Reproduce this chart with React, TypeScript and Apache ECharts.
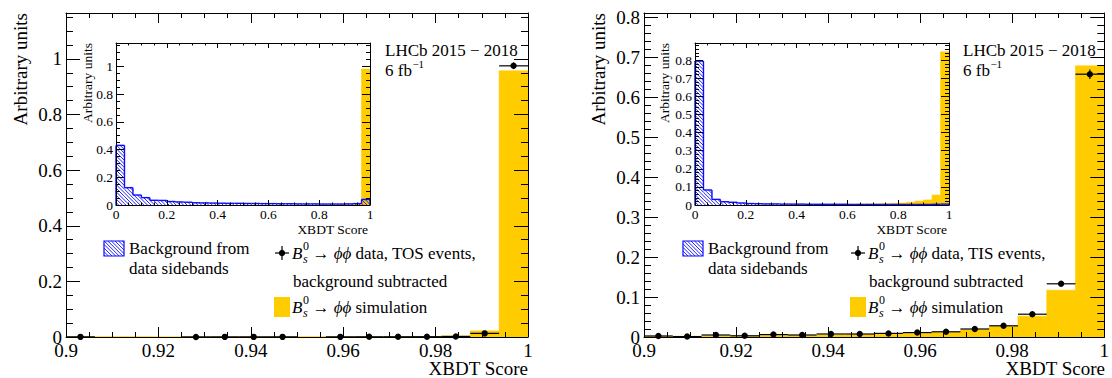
import { useEffect, useRef } from "react";
import * as echarts from "echarts";

// ---------------- data ----------------
const MAIN_EDGES = [0.9, 0.90625, 0.9125, 0.91875, 0.925, 0.93125, 0.9375, 0.94375, 0.95, 0.95625, 0.9625, 0.96875, 0.975, 0.98125, 0.9875, 0.99375, 1.0];
const INSET_BINS = 30;
const INSET_EDGES = Array.from({ length: INSET_BINS + 1 }, (_, i) => i / INSET_BINS);

// TOS (left panel), main range 0.9-1
const tosSimulation = [0.001, 0.001, 0.001, 0.0005, 0.0005, 0.0005, 0.0005, 0.0005, 0.001, 0.001, 0.001, 0.0015, 0.002, 0.004, 0.022, 0.957];
const tosData = [0.0005, null, null, null, 0.0003, 0.0004, 0.0004, 0.0005, null, 0.0005, 0.0007, 0.0008, 0.001, 0.002, 0.013, 0.975];
const tosDataErr = [0.002, 0, 0, 0, 0.002, 0.002, 0.002, 0.002, 0, 0.002, 0.002, 0.002, 0.002, 0.002, 0.003, 0.012];

// TIS (right panel), main range 0.9-1
const tisSimulation = [0.002, 0.002, 0.003, 0.003, 0.004, 0.004, 0.005, 0.006, 0.007, 0.009, 0.012, 0.018, 0.027, 0.052, 0.117, 0.678];
const tisData = [0.0025, 0.001, 0.005, 0.003, 0.006, 0.005, 0.0075, 0.0075, 0.009, 0.011, 0.013, 0.02, 0.028, 0.057, 0.133, 0.657];
const tisDataErr = [0.002, 0.002, 0.003, 0.002, 0.003, 0.002, 0.003, 0.003, 0.003, 0.003, 0.003, 0.003, 0.003, 0.003, 0.004, 0.012];

// insets, full range 0-1
const tosInsetBackground = [0.43, 0.125, 0.072, 0.053, 0.034, 0.033, 0.025, 0.022, 0.02, 0.016, 0.015, 0.014, 0.013, 0.012, 0.012, 0.011, 0.011, 0.01, 0.01, 0.009, 0.009, 0.008, 0.008, 0.008, 0.007, 0.007, 0.007, 0.008, 0.01, 0.04];
const tosInsetSimulation = [0, 0, 0, 0, 0, 0, 0, 0, 0, 0, 0, 0, 0, 0, 0, 0, 0, 0, 0, 0, 0, 0, 0, 0, 0, 0, 0.001, 0.002, 0.006, 0.98];
const tisInsetBackground = [0.795, 0.083, 0.031, 0.018, 0.015, 0.011, 0.008, 0.007, 0.006, 0.006, 0.005, 0.005, 0.005, 0.004, 0.004, 0.004, 0.004, 0.004, 0.003, 0.003, 0.003, 0.003, 0.003, 0.003, 0.003, 0.003, 0.003, 0.003, 0.004, 0.005];
const tisInsetSimulation = [0, 0, 0, 0, 0, 0, 0, 0, 0, 0, 0, 0.001, 0.001, 0.001, 0.002, 0.002, 0.003, 0.004, 0.004, 0.005, 0.006, 0.006, 0.007, 0.009, 0.011, 0.015, 0.022, 0.028, 0.055, 0.846];

// ---------------- styles ----------------
const SERIF = "Liberation Serif";
const YELLOW = "#ffcc00";
const BLUE = "#0a0aff";
const HATCH = 3.6;
const LEG = 17;

const GRIDS = [
  { left: 66, top: 13, width: 462, height: 324 },
  { left: 644, top: 13, width: 461, height: 324 },
  { left: 116, top: 43, width: 254, height: 162 },
  { left: 695, top: 43, width: 254, height: 162 },
];

const SPECS = [
  { xMin: 0.9, xMax: 1, xMaj: 0.02, xMin2: 0.005, yMin: 0, yMax: 1.165, yMaj: 0.2, yMin2: 0.05, xL: 10, yL: 14, fs: 19, xm: 3.5, ym: 4 },
  { xMin: 0.9, xMax: 1, xMaj: 0.02, xMin2: 0.005, yMin: 0, yMax: 0.81, yMaj: 0.1, yMin2: 0.02, xL: 10, yL: 14, fs: 19, xm: 3.5, ym: 4 },
  { xMin: 0, xMax: 1, xMaj: 0.2, xMin2: 0.05, yMin: 0, yMax: 1.168, yMaj: 0.2, yMin2: 0.05, xL: 5, yL: 8, fs: 13.5, xm: 2, ym: 3 },
  { xMin: 0, xMax: 1, xMaj: 0.2, xMin2: 0.05, yMin: 0, yMax: 0.895, yMaj: 0.1, yMin2: 0.02, xL: 5, yL: 8, fs: 13.5, xm: 2, ym: 3 },
];

let mctx: any = null;
function measure(text: string, size: number, italic = false) {
  if (!mctx) mctx = document.createElement("canvas").getContext("2d");
  mctx.font = `${italic ? "italic " : ""}${size}px "${SERIF}"`;
  return mctx.measureText(text).width;
}

function fmt(v: number, interval: number) {
  const r = v / interval;
  if (Math.abs(r - Math.round(r)) > 1e-6) return "";
  return String(parseFloat(v.toFixed(4)));
}

function makeAxis(gridIndex: number, position: string, min: number, max: number, interval: number, tickLen: number, showLabel: boolean, showLine: boolean, fs: number, margin: number) {
  return {
    type: "value",
    gridIndex,
    position,
    min,
    max,
    interval,
    z: 10,
    axisLine: { show: showLine, onZero: false, lineStyle: { color: "#000", width: 1 } },
    axisTick: { show: true, inside: true, length: tickLen, lineStyle: { color: "#000", width: 1 } },
    axisLabel: {
      show: showLabel,
      fontSize: fs,
      fontFamily: SERIF,
      color: "#000",
      margin,
      formatter: (v: number) => fmt(v, interval),
    },
    splitLine: { show: false },
    minorTick: { show: false },
    minorSplitLine: { show: false },
  };
}

function hatchLines(x0: number, x1: number, yt: number, yb: number, s: number, color: string, lw: number) {
  const out: any[] = [];
  const kStart = Math.ceil((yt - x1) / s);
  const kEnd = Math.floor((yb - x0) / s);
  for (let k = kStart; k <= kEnd; k++) {
    const off = k * s;
    const xs = Math.max(x0, yt - off);
    const xe = Math.min(x1, yb - off);
    if (xe - xs > 0.3) {
      out.push({ type: "line", silent: true, shape: { x1: xs, y1: xs + off, x2: xe, y2: xe + off }, style: { stroke: color, lineWidth: lw } });
    }
  }
  return out;
}

function histSeries(gi: number, edges: number[], values: number[], color: string, z: number) {
  return {
    type: "custom",
    xAxisIndex: gi * 4,
    yAxisIndex: gi * 4,
    z,
    clip: false,
    silent: true,
    data: values.map((v, i) => [edges[i], edges[i + 1], v]),
    renderItem: (_p: any, api: any) => {
      const lo = api.value(0), hi = api.value(1), v = api.value(2);
      if (!(v > 0)) return { type: "group", children: [] };
      const a = api.coord([lo, 0]);
      const b = api.coord([hi, v]);
      return {
        type: "rect",
        shape: { x: a[0], y: b[1], width: b[0] - a[0], height: a[1] - b[1] },
        style: { fill: color, stroke: color, lineWidth: 0.6 },
      };
    },
  };
}

function hatchedSeries(gi: number, edges: number[], values: number[], z: number) {
  return {
    type: "custom",
    xAxisIndex: gi * 4,
    yAxisIndex: gi * 4,
    z,
    clip: false,
    silent: true,
    data: values.map((v, i) => [edges[i], edges[i + 1], v]),
    renderItem: (p: any, api: any) => {
      const i = p.dataIndex;
      const lo = api.value(0), hi = api.value(1), v = api.value(2);
      const prev = i > 0 ? values[i - 1] : 0;
      const a = api.coord([lo, 0]);
      const b = api.coord([hi, v]);
      const pp = api.coord([lo, prev]);
      const x0 = a[0], x1 = b[0], yt = b[1], yb = a[1];
      const children: any[] = hatchLines(x0, x1, yt, yb, HATCH, BLUE, 0.9);
      const ls = { stroke: BLUE, lineWidth: 1.4 };
      children.push({ type: "line", shape: { x1: x0, y1: pp[1], x2: x0, y2: yt }, style: ls });
      children.push({ type: "line", shape: { x1: x0, y1: yt, x2: x1, y2: yt }, style: ls });
      if (i === values.length - 1) children.push({ type: "line", shape: { x1: x1, y1: yt, x2: x1, y2: yb }, style: ls });
      return { type: "group", children };
    },
  };
}

function pointsSeries(gi: number, edges: number[], values: (number | null)[], errs: number[]) {
  const data: number[][] = [];
  values.forEach((v, i) => {
    if (v !== null) data.push([edges[i], edges[i + 1], v, errs[i]]);
  });
  return {
    type: "custom",
    xAxisIndex: gi * 4,
    yAxisIndex: gi * 4,
    z: 12,
    clip: false,
    silent: true,
    data,
    renderItem: (_p: any, api: any) => {
      const lo = api.value(0), hi = api.value(1), v = api.value(2), e = api.value(3);
      const mid = (lo + hi) / 2;
      const l = api.coord([lo, v]);
      const r = api.coord([hi, v]);
      const c = api.coord([mid, v]);
      const up = api.coord([mid, v + e]);
      const dn = api.coord([mid, Math.max(0, v - e)]);
      const ls = { stroke: "#000", lineWidth: 1.2 };
      return {
        type: "group",
        children: [
          { type: "line", shape: { x1: l[0], y1: l[1], x2: r[0], y2: r[1] }, style: ls },
          { type: "line", shape: { x1: up[0], y1: up[1], x2: dn[0], y2: dn[1] }, style: ls },
          { type: "circle", shape: { cx: c[0], cy: c[1], r: 3.2 }, style: { fill: "#000" } },
        ],
      };
    },
  };
}

function txt(x: number, y: number, text: string, size: number, opts: any = {}) {
  return {
    type: "text",
    x,
    y,
    z: 30,
    rotation: opts.rot || 0,
    silent: true,
    style: {
      text,
      fontSize: size,
      fontFamily: SERIF,
      fontStyle: opts.italic ? "italic" : "normal",
      fill: "#000",
      align: opts.align || "left",
      verticalAlign: opts.va || "middle",
    },
  };
}

function bsText(x: number, y: number, rest: { t: string; italic?: boolean }[]) {
  const size = LEG, small = 12;
  const els: any[] = [];
  els.push(txt(x, y, "B", size, { italic: true }));
  const wB = measure("B", size, true);
  els.push(txt(x + wB + 0.5, y - 7, "0", small));
  els.push(txt(x + wB + 0.5, y + 6, "s", small, { italic: true }));
  let cx = x + wB + Math.max(measure("0", small), measure("s", small, true)) + 4;
  for (const p of rest) {
    els.push(txt(cx, y, p.t, size, { italic: p.italic }));
    cx += measure(p.t, size, !!p.italic);
  }
  return els;
}

function panelGraphics(o: any) {
  const els: any[] = [];
  // axis titles
  els.push(txt(o.yTitleX, o.mainTop, "Arbitrary units", 19, { rot: Math.PI / 2, align: "right" }));
  els.push(txt(o.mainRight, 378, "XBDT Score", 19, { align: "right", va: "bottom" }));
  els.push(txt(o.insetYTitleX, o.insetTop, "Arbitrary units", 13.5, { rot: Math.PI / 2, align: "right" }));
  els.push(txt(o.insetRight - 2, 229, "XBDT Score", 13.5, { align: "right" }));
  // LHCb label
  els.push(txt(o.lhcbX, 50, "LHCb 2015 \u2212 2018", LEG));
  els.push(txt(o.lhcbX, 70, "6 fb", LEG));
  els.push(txt(o.lhcbX + measure("6 fb", LEG) + 0.5, 64, "\u22121", 11));
  // legend: hatched box
  const hx = o.hatchX, hy = 241, hw = 20, hh = 15;
  els.push({ type: "group", z: 30, silent: true, children: hatchLines(hx, hx + hw, hy, hy + hh, HATCH, BLUE, 0.9) });
  els.push({ type: "rect", z: 31, silent: true, shape: { x: hx, y: hy, width: hw, height: hh }, style: { fill: "none", stroke: BLUE, lineWidth: 1.2 } });
  els.push(txt(hx + 25, 248, "Background from", LEG));
  els.push(txt(hx + 25, 268, "data sidebands", LEG));
  // legend: data marker
  const mx = o.markX, my = 253;
  els.push({ type: "line", z: 30, silent: true, shape: { x1: mx - 7, y1: my, x2: mx + 7, y2: my }, style: { stroke: "#000", lineWidth: 1.2 } });
  els.push({ type: "line", z: 30, silent: true, shape: { x1: mx, y1: my - 7, x2: mx, y2: my + 7 }, style: { stroke: "#000", lineWidth: 1.2 } });
  els.push({ type: "circle", z: 30, silent: true, shape: { cx: mx, cy: my, r: 3.2 }, style: { fill: "#000" } });
  els.push(...bsText(mx + 10, my, [{ t: "\u2192 " }, { t: "\u03d5\u03d5", italic: true }, { t: ` data, ${o.trig} events,` }]));
  els.push(txt(mx + 11, 281, "background subtracted", LEG));
  // legend: simulation
  els.push({ type: "rect", z: 30, silent: true, shape: { x: mx - 8, y: 297, width: 16, height: 20 }, style: { fill: YELLOW } });
  els.push(...bsText(mx + 10, 307, [{ t: "\u2192 " }, { t: "\u03d5\u03d5", italic: true }, { t: " simulation" }]));
  return els;
}

export default function App() {
  const ref = useRef<HTMLDivElement>(null);
  useEffect(() => {
    if (!ref.current) return;
    const chart = echarts.init(ref.current, null, { renderer: "svg" });

    const xAxes: any[] = [];
    const yAxes: any[] = [];
    GRIDS.forEach((_g, gi) => {
      const s = SPECS[gi];
      xAxes.push(makeAxis(gi, "bottom", s.xMin, s.xMax, s.xMaj, s.xL, true, true, s.fs, s.xm));
      xAxes.push(makeAxis(gi, "bottom", s.xMin, s.xMax, s.xMin2, s.xL / 2, false, false, s.fs, s.xm));
      xAxes.push(makeAxis(gi, "top", s.xMin, s.xMax, s.xMaj, s.xL, false, true, s.fs, s.xm));
      xAxes.push(makeAxis(gi, "top", s.xMin, s.xMax, s.xMin2, s.xL / 2, false, false, s.fs, s.xm));
      yAxes.push(makeAxis(gi, "left", s.yMin, s.yMax, s.yMaj, s.yL, true, true, s.fs, s.ym));
      yAxes.push(makeAxis(gi, "left", s.yMin, s.yMax, s.yMin2, s.yL / 2, false, false, s.fs, s.ym));
      yAxes.push(makeAxis(gi, "right", s.yMin, s.yMax, s.yMaj, s.yL, false, true, s.fs, s.ym));
      yAxes.push(makeAxis(gi, "right", s.yMin, s.yMax, s.yMin2, s.yL / 2, false, false, s.fs, s.ym));
    });

    const grids = GRIDS.map((g) => ({
      ...g,
      show: true,
      backgroundColor: "#fff",
      borderWidth: 0,
      containLabel: false,
    }));

    const series = [
      histSeries(0, MAIN_EDGES, tosSimulation, YELLOW, 2),
      pointsSeries(0, MAIN_EDGES, tosData, tosDataErr),
      histSeries(1, MAIN_EDGES, tisSimulation, YELLOW, 2),
      pointsSeries(1, MAIN_EDGES, tisData, tisDataErr),
      histSeries(2, INSET_EDGES, tosInsetSimulation, YELLOW, 5),
      hatchedSeries(2, INSET_EDGES, tosInsetBackground, 6),
      histSeries(3, INSET_EDGES, tisInsetSimulation, YELLOW, 5),
      hatchedSeries(3, INSET_EDGES, tisInsetBackground, 6),
    ];

    const graphics = [
      ...panelGraphics({ yTitleX: 20, mainTop: 13, mainRight: 528, insetYTitleX: 87, insetTop: 43, insetRight: 370, lhcbX: 385, hatchX: 104, markX: 282, trig: "TOS" }),
      ...panelGraphics({ yTitleX: 598, mainTop: 13, mainRight: 1105, insetYTitleX: 664, insetTop: 43, insetRight: 949, lhcbX: 963, hatchX: 683, markX: 858, trig: "TIS" }),
    ];

    chart.setOption({
      animation: false,
      backgroundColor: "#fff",
      grid: grids,
      xAxis: xAxes,
      yAxis: yAxes,
      series,
      graphic: { elements: graphics },
    });
    return () => chart.dispose();
  }, []);
  return <div ref={ref} style={{ position: "absolute", left: 0, top: 0, width: 1112, height: 378 }} />;
}
